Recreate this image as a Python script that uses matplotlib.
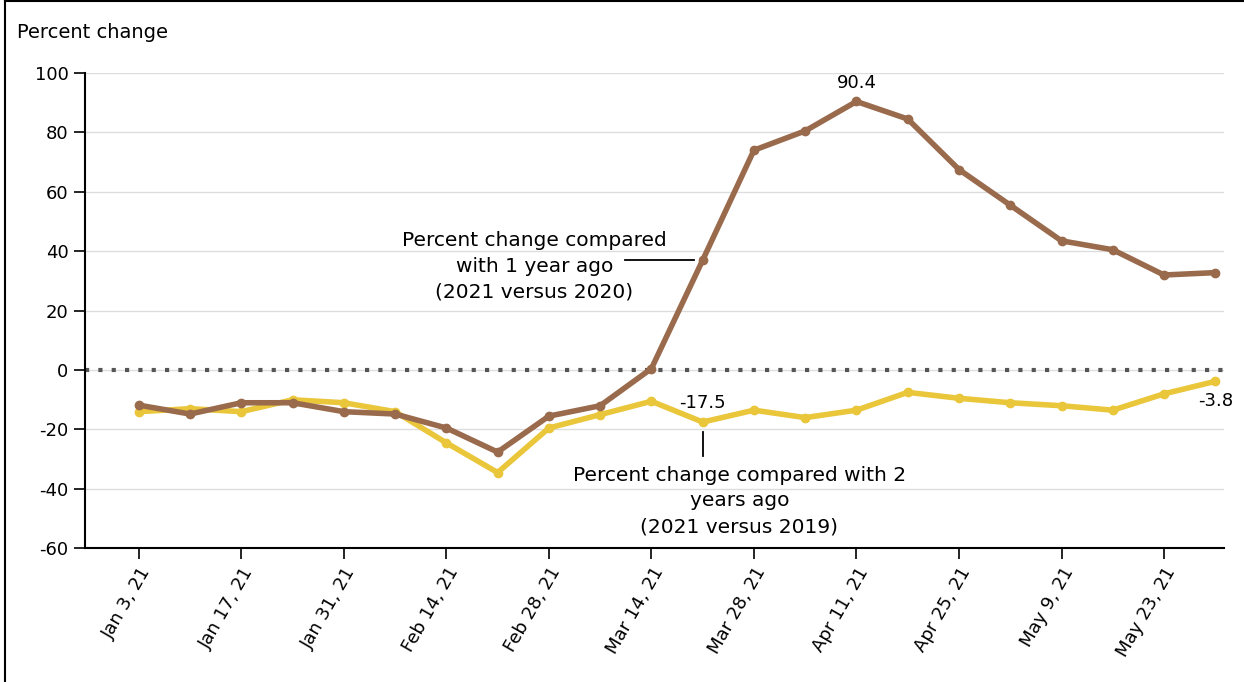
import pandas as pd
import matplotlib.pyplot as plt

plt.rcParams['axes.unicode_minus'] = False

dates = pd.date_range('2021-01-03', periods=22, freq='7D')
vs_2020 = [-11.8, -14.8, -11, -11, -14, -14.8, -19.5, -27.6, -15.5, -12, 0.5, 37,
           74, 80.5, 90.4, 84.5, 67.5, 55.5, 43.5, 40.5, 32, 32.8]
vs_2019 = [-14, -13, -14, -10, -11, -14, -24.5, -34.5, -19.5, -15, -10.5, -17.5,
           -13.5, -16, -13.5, -7.5, -9.5, -11, -12, -13.5, -8, -3.8]
tick_labels = ['Jan 3, 21', 'Jan 17, 21', 'Jan 31, 21', 'Feb 14, 21', 'Feb 28, 21', 'Mar 14, 21',
               'Mar 28, 21', 'Apr 11, 21', 'Apr 25, 21', 'May 9, 21', 'May 23, 21']

brown = '#9A6A4C'
yellow = '#EAC63A'

fig = plt.figure(figsize=(12.44, 6.82), dpi=100)
ax = fig.add_axes([0.068, 0.196, 0.916, 0.697])
ax.plot(dates, vs_2019, color=yellow, lw=4, marker='o', ms=6, zorder=3)
ax.plot(dates, vs_2020, color=brown, lw=4, marker='o', ms=6, zorder=4)
ax.axhline(0, color='#555555', lw=3, ls=(0, (1, 2.2)), zorder=2)

ax.set_ylim(-60, 100)
ax.set_yticks(range(-60, 101, 20))
ax.set_xlim(dates[0] - pd.Timedelta(days=7.4), dates[-1] + pd.Timedelta(days=1.2))
ax.set_xticks(dates[::2])
ax.set_xticklabels(tick_labels, rotation=60, ha='right', rotation_mode='anchor')
ax.tick_params(labelsize=13, length=8, width=1.2)
ax.grid(axis='y', color='#dddddd', lw=1)
for s in ['top', 'right']:
    ax.spines[s].set_visible(False)
for s in ['left', 'bottom']:
    ax.spines[s].set_linewidth(1.5)

fig.text(0.014, 0.945, 'Percent change', fontsize=14)
ax.annotate('90.4', (dates[14], vs_2020[14]), xytext=(0, 10), textcoords='offset points',
            ha='center', fontsize=13)
ax.annotate('-17.5', (dates[11], vs_2019[11]), xytext=(0, 10), textcoords='offset points',
            ha='center', fontsize=13)
ax.annotate('-3.8', (dates[21], vs_2019[21]), xytext=(0, -18), textcoords='offset points',
            ha='center', fontsize=13)
ax.text(dates[7] + pd.Timedelta(days=5), 35, 'Percent change compared\nwith 1 year ago\n(2021 versus 2020)',
        ha='center', va='center', fontsize=14.5, linespacing=1.45)
ax.plot([dates[10] - pd.Timedelta(days=3.6), dates[11] - pd.Timedelta(days=1.2)], [37, 37], color='black', lw=1.3)
ax.text(dates[12] - pd.Timedelta(days=2), -44, 'Percent change compared with 2\nyears ago\n(2021 versus 2019)',
        ha='center', va='center', fontsize=14.5, linespacing=1.45)
ax.plot([dates[11], dates[11]], [-21, -29], color='black', lw=1.3)

fig.add_artist(plt.Line2D([0.004, 0.004], [0, 0.998], color='black', lw=1.5))
fig.add_artist(plt.Line2D([0.004, 1], [0.998, 0.998], color='black', lw=1.5))
fig.savefig('out.png')
